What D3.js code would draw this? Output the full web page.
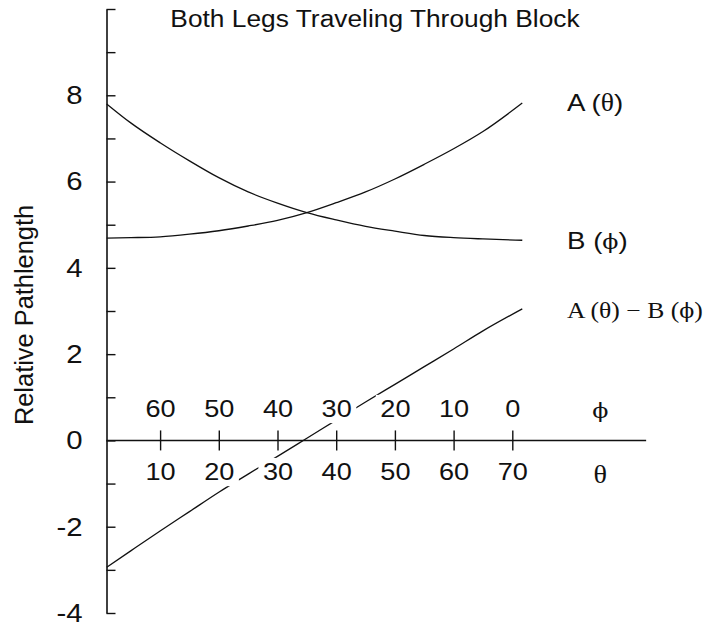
<!DOCTYPE html>
<html>
<head>
<meta charset="utf-8">
<script src="https://cdn.jsdelivr.net/npm/d3@7/dist/d3.min.js"></script>
<style>
  html, body { margin: 0; padding: 0; background: #fff; }
  svg { display: block; }
</style>
</head>
<body>
<svg id="chart" width="715" height="628"></svg>
<script>
// Incidence angle θ (degrees); φ = 70 − θ
const theta = [0.9, 5, 10, 15, 20, 25, 30, 35, 40, 45, 50, 55, 60, 65, 71.7];
// Relative pathlength of leg A as a function of θ
const pathA = [4.69, 4.70, 4.72, 4.78, 4.86, 4.97, 5.10, 5.28, 5.51, 5.76, 6.06, 6.40, 6.76, 7.16, 7.82];
// Relative pathlength of leg B as a function of φ
const pathB = [7.80, 7.36, 6.90, 6.48, 6.09, 5.76, 5.50, 5.28, 5.11, 4.96, 4.85, 4.75, 4.70, 4.67, 4.64];
// Difference A(θ) − B(φ)
const pathDiff = [-2.94, -2.56, -2.10, -1.65, -1.20, -0.78, -0.37, 0.05, 0.47, 0.89, 1.30, 1.71, 2.12, 2.54, 3.05];

const thetaTicks = [10, 20, 30, 40, 50, 60, 70];
const phiTicks = [60, 50, 40, 30, 20, 10, 0];
const yTicks = d3.range(-4, 11, 1);
const yLabelled = [-4, -2, 0, 2, 4, 6, 8];

const title = "Both Legs Traveling Through Block";
const yTitle = "Relative Pathlength";
const PHI = "\u03D5";   // straight-stroke phi
const THETA = "\u03B8";

const SANS = "'Liberation Sans', Arial, Helvetica, sans-serif";
const SERIF = "'Liberation Serif', 'Times New Roman', Times, serif";
const GREEK = "'DejaVu Serif', 'Liberation Serif', serif";
const SX = 1.13; // horizontal widening of the lettering
const INK = "#111";

const svg = d3.select("#chart");

const x = d3.scaleLinear().domain([0, 70]).range([101.4, 512.3]);
const xPhi = d3.scaleLinear().domain([70, 0]).range([101.4, 512.3]);
const y = d3.scaleLinear().domain([-4, 10]).range([613, 9]);
const axisX = 106.5;
const axisEnd = x(92.8);

// ---- curves ----
const line = d3.line()
  .x((d, i) => x(theta[i]))
  .y(d => y(d))
  .curve(d3.curveMonotoneX);

const curves = svg.append("g")
  .attr("fill", "none")
  .attr("stroke", INK)
  .attr("stroke-width", 1.3);
[pathA, pathB, pathDiff].forEach(s => curves.append("path").attr("d", line(s)));

// ---- y axis ----
const yAxis = svg.append("g")
  .attr("transform", `translate(${axisX},0)`)
  .call(d3.axisLeft(y)
    .tickValues(yTicks)
    .tickSizeInner(-9)
    .tickSizeOuter(0)
    .tickPadding(24)
    .tickFormat(d => yLabelled.includes(d) ? String(d) : ""));
yAxis.select(".domain").attr("stroke", INK).attr("stroke-width", 1.6);
yAxis.selectAll(".tick line").attr("stroke", INK).attr("stroke-width", 1.4);
yAxis.selectAll(".tick text")
  .attr("font-family", SANS).attr("font-size", 26).attr("fill", INK)
  .attr("transform", `scale(${SX},1)`)
  .attr("x", -24 / SX);

// ---- x axis: θ below, φ above, ticks crossing the baseline ----
const x0 = y(0);
svg.append("line")
  .attr("x1", axisX).attr("x2", axisEnd)
  .attr("y1", x0).attr("y2", x0)
  .attr("stroke", INK).attr("stroke-width", 1.4);

function styleTickLabels(g) {
  g.select(".domain").remove();
  g.selectAll(".tick line").attr("stroke", INK).attr("stroke-width", 1.4);
  g.selectAll(".tick text")
    .attr("font-family", SANS).attr("font-size", 24).attr("fill", INK)
    .attr("transform", `scale(${SX},1)`);
  // white box behind each label so crossing lines break around it
  g.selectAll(".tick").each(function () {
    const t = d3.select(this).select("text");
    const bb = t.node().getBBox();
    const pad = 4;
    d3.select(this).insert("rect", "text")
      .attr("x", (bb.x - pad) * SX).attr("y", bb.y - pad + 3)
      .attr("width", (bb.width + 2 * pad) * SX).attr("height", bb.height + 2 * pad - 6)
      .attr("fill", "#fff");
  });
}

svg.append("g")
  .attr("transform", `translate(0,${x0})`)
  .call(d3.axisBottom(x).tickValues(thetaTicks).tickSize(10).tickPadding(13).tickFormat(d3.format("d")))
  .call(styleTickLabels);

svg.append("g")
  .attr("transform", `translate(0,${x0})`)
  .call(d3.axisTop(xPhi).tickValues(phiTicks).tickSize(10).tickPadding(13).tickFormat(d3.format("d")))
  .call(styleTickLabels);

function stretchedText(px, py, anchor, family, size) {
  return svg.append("text")
    .attr("transform", `translate(${px},${py}) scale(${SX},1)`)
    .attr("text-anchor", anchor)
    .attr("font-family", family)
    .attr("font-size", size)
    .attr("fill", INK);
}

// axis symbols
stretchedText(x(85), 418, "middle", GREEK, 21).text(PHI);
stretchedText(x(85), 483, "middle", SERIF, 25).text(THETA);

// ---- titles ----
stretchedText(375, 27, "middle", SANS, 23.3).text(title);

svg.append("text")
  .attr("transform", `translate(33,315) rotate(-90)`)
  .attr("text-anchor", "middle")
  .attr("font-family", SANS)
  .attr("font-size", 25.4)
  .attr("fill", INK)
  .text(yTitle);

// ---- series labels ----
const la = stretchedText(567, 111, "start", SANS, 24.5);
la.append("tspan").text("A (");
la.append("tspan").attr("font-family", SERIF).text(THETA);
la.append("tspan").text(")");

const lb = stretchedText(567, 249, "start", SANS, 24.5);
lb.append("tspan").text("B (");
lb.append("tspan").attr("font-family", GREEK).attr("font-size", 21).text(PHI);
lb.append("tspan").text(")");

const ld = stretchedText(567, 318, "start", SERIF, 22.7);
ld.append("tspan").text(`A (${THETA}) \u2212 B (`);
ld.append("tspan").attr("font-family", GREEK).attr("font-size", 19.5).text(PHI);
ld.append("tspan").text(")");
</script>
</body>
</html>
